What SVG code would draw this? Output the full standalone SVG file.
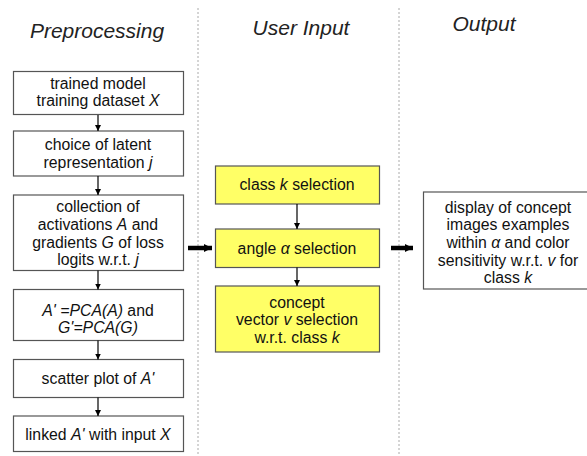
<svg xmlns="http://www.w3.org/2000/svg" width="587" height="456" viewBox="0 0 587 456">
<style>
text{font-family:"Liberation Sans",Arial,sans-serif;font-size:15.8px;fill:#111;text-anchor:middle}
.t{font-size:21px;font-style:italic;fill:#222}
.i{font-style:italic}
.box{fill:#fff;stroke:#555;stroke-width:1.2}
.y{fill:#ffff66;stroke:#555;stroke-width:1.2}
.sep{stroke:#aaa;stroke-width:1;stroke-dasharray:2 2}
.a{stroke:#000;stroke-width:1.2;fill:none;marker-end:url(#ah)}
.b{stroke:#000;stroke-width:4.5;fill:none;marker-end:url(#bh)}
</style>
<defs>
<marker id="ah" viewBox="0 0 10 10" refX="10" refY="5" markerWidth="6" markerHeight="8" markerUnits="userSpaceOnUse" orient="auto"><path d="M0,0 L10,5 L0,10 z" fill="#000"/></marker>
<marker id="bh" viewBox="0 0 10 10" refX="10" refY="5" markerWidth="8" markerHeight="9" markerUnits="userSpaceOnUse" orient="auto"><path d="M0,0 L10,5 L0,10 z" fill="#000"/></marker>
</defs>
<rect width="587" height="456" fill="#fff"/>
<line class="sep" x1="198" y1="8" x2="198" y2="456"/>
<line class="sep" x1="399" y1="8" x2="399" y2="456"/>
<text class="t" x="97" y="38">Preprocessing</text>
<text class="t" x="301" y="35">User Input</text>
<text class="t" x="484" y="31">Output</text>

<g id="n1"><rect class="box" x="13.5" y="71.5" width="170" height="43"/><text x="98" y="88.5">trained model</text><text x="98" y="106">training dataset <tspan class="i">X</tspan></text></g>
<g id="n2"><rect class="box" x="13.5" y="131" width="170" height="45"/><text x="98" y="149.5">choice of latent</text><text x="98" y="167.5">representation <tspan class="i">j</tspan></text></g>
<g id="n3"><rect class="box" x="13.5" y="195" width="170" height="75.5"/><text x="98" y="212">collection of</text><text x="98" y="229.5">activations <tspan class="i">A</tspan> and</text><text x="98" y="247.5">gradients <tspan class="i">G</tspan> of loss</text><text x="98" y="265">logits w.r.t. <tspan class="i">j</tspan></text></g>
<g id="n4"><rect class="box" x="13.5" y="289.5" width="170" height="51"/><text x="98" y="315.5"><tspan class="i">A' =PCA(A)</tspan> and</text><text x="98" y="333"><tspan class="i">G'=PCA(G)</tspan></text></g>
<g id="n5"><rect class="box" x="13.5" y="359.5" width="170" height="38"/><text x="98" y="383.5">scatter plot of <tspan class="i">A'</tspan></text></g>
<g id="n6"><rect class="box" x="13.5" y="416" width="170" height="35.5"/><text x="98" y="439.5">linked <tspan class="i">A'</tspan> with input <tspan class="i">X</tspan></text></g>

<g id="u1"><rect class="y" x="215.5" y="166" width="164" height="38"/><text x="297" y="190">class <tspan class="i">k</tspan> selection</text></g>
<g id="u2"><rect class="y" x="215.5" y="229" width="164" height="38.5"/><text x="297" y="253.5">angle <tspan class="i">α</tspan> selection</text></g>
<g id="u3"><rect class="y" x="215.5" y="286" width="164" height="66"/><text x="297" y="307.5">concept</text><text x="297" y="325">vector <tspan class="i">v</tspan> selection</text><text x="297" y="342.5">w.r.t. class <tspan class="i">k</tspan></text></g>

<g id="o1"><rect class="box" x="423.5" y="192" width="170" height="97"/><text x="508" y="212.5">display of concept</text><text x="508" y="230">images examples</text><text x="508" y="248">within <tspan class="i">α</tspan> and color</text><text x="508" y="265.5">sensitivity w.r.t. <tspan class="i">v</tspan> for</text><text x="508" y="283">class <tspan class="i">k</tspan></text></g>

<g id="connectors">
<line class="a" x1="98" y1="115" x2="98" y2="131"/>
<line class="a" x1="98" y1="176" x2="98" y2="195"/>
<line class="a" x1="98" y1="270.5" x2="98" y2="289.5"/>
<line class="a" x1="98" y1="340.5" x2="98" y2="359.5"/>
<line class="a" x1="98" y1="397.5" x2="98" y2="416"/>
<line class="a" x1="297" y1="204" x2="297" y2="229"/>
<line class="a" x1="297" y1="267.5" x2="297" y2="286"/>
<line class="b" x1="188" y1="248" x2="212" y2="248"/>
<line class="b" x1="391" y1="248" x2="413" y2="248"/>
</g>
</svg>
